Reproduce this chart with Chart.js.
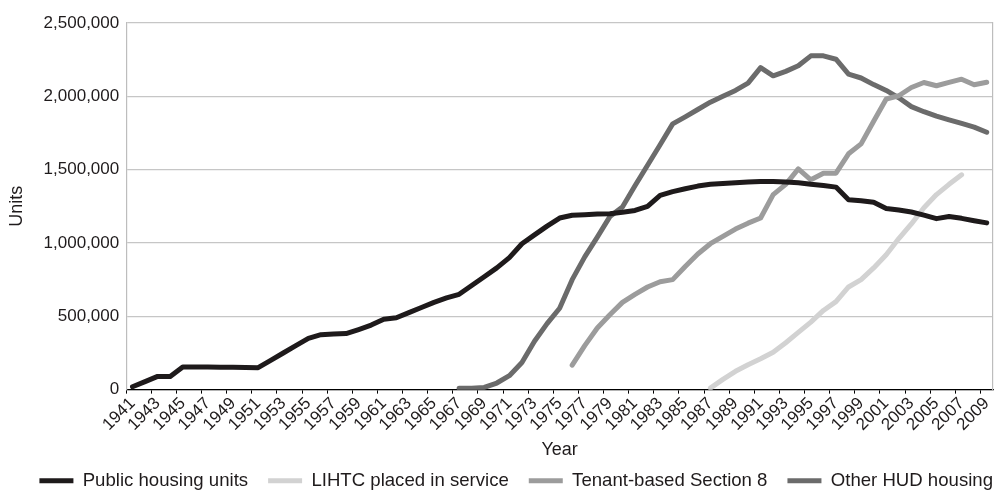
<!DOCTYPE html>
<html>
<head>
<meta charset="utf-8">
<script src="https://cdn.jsdelivr.net/npm/chart.js@4"></script>
<style>
  html, body { margin: 0; padding: 0; background: #fff; }
  #wrap { width: 1000px; height: 491px; }
</style>
</head>
<body>
<div id="wrap"><canvas id="chart"></canvas></div>
<script>
  // categories
  const years = [
    '1941', '1942', '1943', '1944', '1945', '1946', '1947', '1948', '1949', '1950',
    '1951', '1952', '1953', '1954', '1955', '1956', '1957', '1958', '1959', '1960',
    '1961', '1962', '1963', '1964', '1965', '1966', '1967', '1968', '1969', '1970',
    '1971', '1972', '1973', '1974', '1975', '1976', '1977', '1978', '1979', '1980',
    '1981', '1982', '1983', '1984', '1985', '1986', '1987', '1988', '1989', '1990',
    '1991', '1992', '1993', '1994', '1995', '1996', '1997', '1998', '1999', '2000',
    '2001', '2002', '2003', '2004', '2005', '2006', '2007', '2008', '2009'
  ];

  // series (units), null where the program did not exist yet
  const publicHousing = [
    20000, 55000, 90000, 90000, 155000, 155000, 154000, 153000, 152000, 151000,
    150000, 200000, 250000, 300000, 350000, 375000, 380000, 382000, 410000, 440000,
    480000, 490000, 525000, 560000, 595000, 625000, 650000, 710000, 770000, 830000,
    900000, 995000, 1055000, 1115000, 1170000, 1189000, 1193000, 1197000, 1200000, 1210000,
    1222000, 1250000, 1325000, 1350000, 1370000, 1388000, 1400000, 1405000, 1410000, 1415000,
    1420000, 1420000, 1415000, 1410000, 1400000, 1392000, 1381000, 1295000, 1288000, 1278000,
    1235000, 1225000, 1211000, 1190000, 1166000, 1180000, 1168000, 1152000, 1137000
  ];

  const lihtc = [
    null, null, null, null, null, null, null, null, null, null,
    null, null, null, null, null, null, null, null, null, null,
    null, null, null, null, null, null, null, null, null, null,
    null, null, null, null, null, null, null, null, null, null,
    null, null, null, null, null, null, 10000, 70000, 125000, 170000,
    210000, 255000, 320000, 390000, 460000, 540000, 600000, 700000, 750000, 830000,
    920000, 1030000, 1130000, 1240000, 1330000, 1400000, 1465000, null, null
  ];

  const section8 = [
    null, null, null, null, null, null, null, null, null, null,
    null, null, null, null, null, null, null, null, null, null,
    null, null, null, null, null, null, null, null, null, null,
    null, null, null, null, null, 167000, 300000, 420000, 510000, 595000,
    650000, 700000, 736000, 750000, 840000, 925000, 995000, 1045000, 1095000, 1135000,
    1170000, 1330000, 1400000, 1505000, 1431000, 1476000, 1476000, 1608000, 1676000, 1830000,
    1982000, 2004000, 2060000, 2094000, 2072000, 2095000, 2117000, 2079000, 2096000
  ];

  const otherHud = [
    null, null, null, null, null, null, null, null, null, null,
    null, null, null, null, null, null, null, null, null, null,
    null, null, null, null, null, null, 10000, 10000, 15000, 45000,
    95000, 185000, 330000, 450000, 555000, 750000, 905000, 1040000, 1180000, 1245000,
    1390000, 1530000, 1670000, 1812000, 1860000, 1910000, 1960000, 2000000, 2040000, 2090000,
    2196000, 2140000, 2170000, 2208000, 2276000, 2276000, 2253000, 2151000, 2125000, 2080000,
    2040000, 1990000, 1930000, 1895000, 1865000, 1840000, 1815000, 1790000, 1755000
  ];

  const yTicks = [0, 500000, 1000000, 1500000, 2000000, 2500000];

  const textColor = '#1f1b1c';
  Chart.defaults.font.family = '"Liberation Sans", Arial, sans-serif';
  Chart.defaults.color = textColor;

  function series(label, data, color) {
    return {
      label: label,
      data: data,
      borderColor: color,
      backgroundColor: color,
      borderWidth: 5,
      borderCapStyle: 'round',
      borderJoinStyle: 'round',
      pointRadius: 0,
      pointHoverRadius: 0,
      tension: 0,
      spanGaps: false
    };
  }

  const ctx = document.getElementById('chart').getContext('2d');
  new Chart(ctx, {
    type: 'line',
    data: {
      labels: years,
      datasets: [
        series('Public housing units', publicHousing, '#1e1a1b'),
        series('LIHTC placed in service', lihtc, '#d2d2d2'),
        series('Tenant-based Section 8', section8, '#9c9c9c'),
        series('Other HUD housing', otherHud, '#6b6b6b')
      ]
    },
    options: {
      responsive: true,
      maintainAspectRatio: false,
      animation: false,
      layout: {
        padding: { top: 23, right: -13, bottom: -9, left: 6 }
      },
      plugins: {
        tooltip: { enabled: false },
        legend: {
          position: 'bottom',
          align: 'end',
          labels: {
            usePointStyle: true,
            pointStyle: 'line',
            pointStyleWidth: 34,
            padding: 20,
            font: { size: 18.6 },
            color: textColor
          }
        }
      },
      scales: {
        x: {
          offset: true,
          afterFit: (scale) => { scale.paddingRight = 7; },
          grid: {
            offset: true,
            drawOnChartArea: false,
            drawTicks: true,
            tickLength: 4,
            tickColor: (c) => (c.index !== undefined && c.index % 2 === 0) ? '#000' : 'rgba(0,0,0,0)'
          },
          border: { color: '#000', width: 1.2 },
          ticks: {
            autoSkip: false,
            minRotation: 45,
            maxRotation: 45,
            padding: 0,
            font: { size: 17 },
            color: textColor,
            callback: function (value, index) {
              return index % 2 === 0 ? this.getLabelForValue(value) : '';
            }
          },
          title: {
            display: true,
            text: 'Year',
            font: { size: 18 },
            color: textColor,
            padding: { top: 4, bottom: -9 }
          }
        },
        y: {
          min: 0,
          max: 2500000,
          afterBuildTicks: (scale) => { scale.ticks = yTicks.map(v => ({ value: v })); },
          grid: { color: '#c6c6c6', lineWidth: 1.2, drawTicks: false },
          border: { color: '#bdbdbd', width: 1.2 },
          ticks: {
            padding: 7,
            font: { size: 17 },
            color: textColor,
            callback: (v) => Number(v).toLocaleString('en-US')
          },
          title: {
            display: true,
            text: 'Units',
            font: { size: 18 },
            color: textColor,
            padding: { top: 0.2, bottom: 8.8 }
          }
        },
        y2: {
          position: 'right',
          min: 0,
          max: 2500000,
          afterFit: (scale) => { scale.width = 0; },
          grid: { display: false },
          ticks: { display: false },
          border: { display: true, color: '#bdbdbd', width: 1.2 }
        }
      }
    }
  });
</script>
</body>
</html>
